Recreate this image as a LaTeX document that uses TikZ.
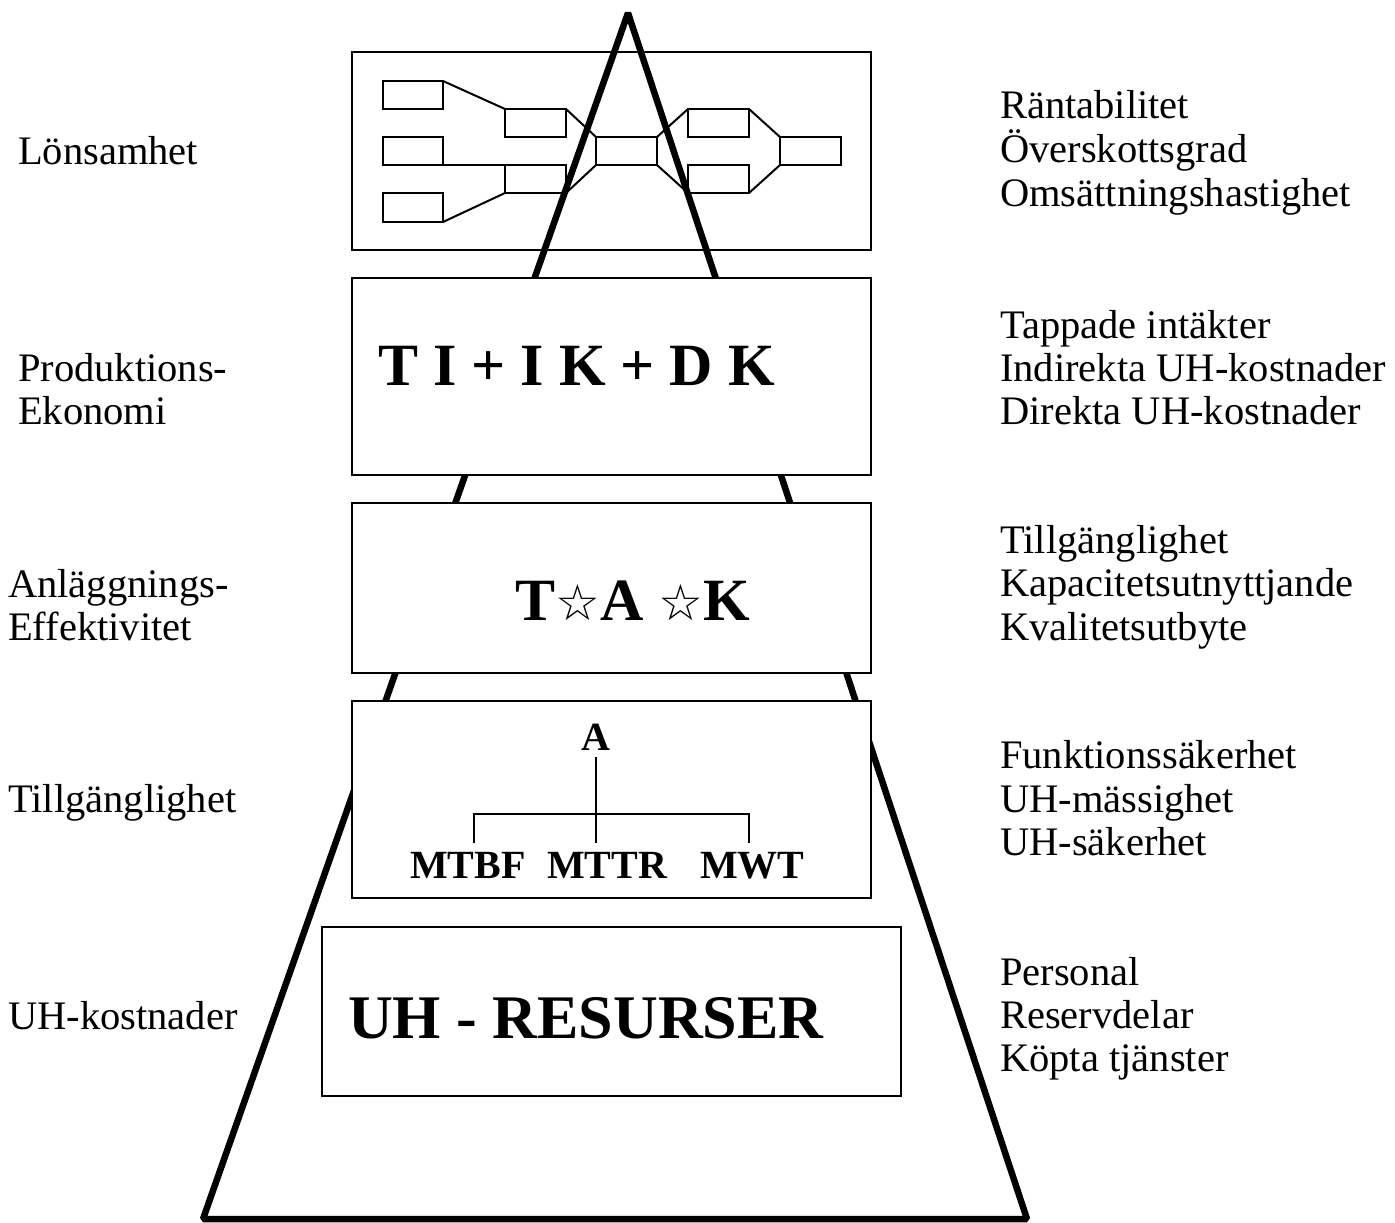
\documentclass[tikz,border=0pt]{standalone}
\usepackage{fontspec}
\setmainfont{Liberation Serif}
\newfontfamily\starfont{DejaVu Sans}
\newcommand\hollowstar{{\starfont\mdseries\fontsize{50}{54}\selectfont ☆}}
\begin{document}
\begin{tikzpicture}[x=1pt,y=-1pt,
  lbl/.style={anchor=base west,inner sep=0pt,font=\fontsize{40.5}{44}\selectfont},
  big/.style={anchor=base west,inner sep=0pt,font=\fontsize{60}{66}\selectfont\bfseries},
  treetxt/.style={anchor=base west,inner sep=0pt,font=\fontsize{40}{44}\selectfont\bfseries},
  level/.style={draw,line width=2.5pt,fill=white,anchor=north west,inner sep=0pt,outer sep=0pt},
  cell/.style={draw,line width=2pt,anchor=north west,inner sep=0pt,outer sep=0pt,
               minimum width=61pt,minimum height=28pt},
  flow/.style={line width=2pt},
  pyr/.style={line width=6.5pt,line join=bevel}]

\useasboundingbox (0,0) rectangle (1395,1223);

% top level: profitability box with its small flow chart
\node[level,minimum width=519pt,minimum height=198pt] (lev1) at (352,52) {};
\node[cell,minimum width=60pt] (l1) at (383,81) {};
\node[cell,minimum width=60pt] (l2) at (383,137) {};
\node[cell,minimum width=60pt,minimum height=29pt] (l3) at (383,193) {};
\node[cell] (c2a) at (505,109) {};
\node[cell] (c2b) at (505,165) {};
\node[cell] (mid) at (596,137) {};
\node[cell] (c4a) at (688,109) {};
\node[cell] (c4b) at (688,165) {};
\node[cell] (out) at (780,137) {};
\draw[flow] (l1.north east) -- (c2a.north west);
\draw[flow] (l2.south east) -- (c2b.north west);
\draw[flow] (l3.south east) -- (c2b.south west);
\draw[flow] (c2a.north east) -- (mid.north west);
\draw[flow] (c2b.south east) -- (mid.south west);
\draw[flow] (mid.north east) -- (c4a.north west);
\draw[flow] (mid.south east) -- (c4b.south west);
\draw[flow] (c4a.north east) -- (out.north west);
\draw[flow] (c4b.south east) -- (out.south west);

% the pyramid behind the lower levels
\coordinate (apex) at (628,13);
\coordinate (baseL) at (203,1219);
\coordinate (baseR) at (1027,1219);
\draw[pyr] (apex) -- (baseL) -- (baseR) -- cycle;

% lower levels
\node[level,minimum width=519pt,minimum height=197pt] (lev2) at (352,278) {};
\node[level,minimum width=519pt,minimum height=170pt] (lev3) at (352,503) {};
\node[level,minimum width=519pt,minimum height=197pt] (lev4) at (352,701) {};
\node[level,minimum width=579pt,minimum height=169pt] (lev5) at (322,927) {};

% box contents
\node[big] (eq) at (378,385) {T I + I K + D K};
\node[big] (tak) at (515,620) {T\hollowstar A \hollowstar K};
\node[big] (res) at (348,1038) {\fontsize{62}{66}\selectfont UH - RESURSER};

\node[treetxt,anchor=base] (A) at (596,750) {A};
\node[treetxt] (mtbf) at (410,878) {MTBF};
\node[treetxt] (mttr) at (547,878) {MTTR};
\node[treetxt] (mwt) at (700,878) {MWT};
\coordinate (stemEnd) at (596,843);
\coordinate (barL) at (474,814);
\coordinate (barR) at (749,814);
\coordinate (legL) at (474,843);
\coordinate (legR) at (749,843);
\draw[flow] ([yshift=-7pt]A.south) -- (stemEnd);
\draw[flow] (legL) -- (barL) -- (barR) -- (legR);

% left column
\node[lbl] (t1) at (18,164) {Lönsamhet};
\node[lbl] (t2a) at (18,381) {Produktions-};
\node[lbl] (t2b) at (18,424) {Ekonomi};
\node[lbl] (t3a) at (8,597) {Anläggnings-};
\node[lbl] (t3b) at (8,640) {Effektivitet};
\node[lbl] (t4) at (8,812) {Tillgänglighet};
\node[lbl] (t5) at (8,1029) {UH-kostnader};

% right column
\node[lbl] (k1a) at (1000,118) {Räntabilitet};
\node[lbl] (k1b) at (1000,162) {Överskottsgrad};
\node[lbl] (k1c) at (1000,206) {Omsättningshastighet};
\node[lbl] (k2a) at (1000,338) {Tappade intäkter};
\node[lbl] (k2b) at (1000,381) {Indirekta UH-kostnader};
\node[lbl] (k2c) at (1000,424) {Direkta UH-kostnader};
\node[lbl] (k3a) at (1000,553) {Tillgänglighet};
\node[lbl] (k3b) at (1000,596) {Kapacitetsutnyttjande};
\node[lbl] (k3c) at (1000,640) {Kvalitetsutbyte};
\node[lbl] (k4a) at (1000,768) {Funktionssäkerhet};
\node[lbl] (k4b) at (1000,812) {UH-mässighet};
\node[lbl] (k4c) at (1000,855) {UH-säkerhet};
\node[lbl] (k5a) at (1000,985) {Personal};
\node[lbl] (k5b) at (1000,1028) {Reservdelar};
\node[lbl] (k5c) at (1000,1071) {Köpta tjänster};
\end{tikzpicture}
\end{document}
